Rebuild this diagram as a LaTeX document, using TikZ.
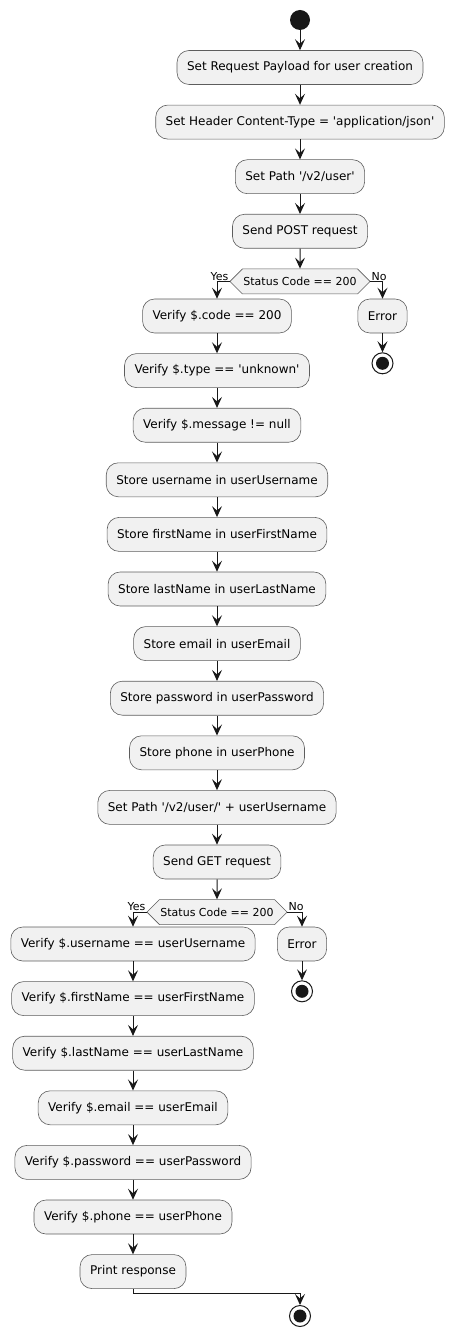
\documentclass[tikz,border=0pt]{standalone}
\usepackage{fontspec}
\setmainfont{DejaVu Sans}[Ligatures=TeXOff]
\usetikzlibrary{arrows.meta,shapes.symbols,positioning}
\definecolor{actfill}{HTML}{F1F1F1}
\definecolor{umlline}{HTML}{181818}
\tikzset{
  action/.style={draw=umlline!70, fill=actfill, rounded corners=12pt, line width=0.6pt,
    minimum height=34pt, inner xsep=10pt, inner ysep=0pt, font=\fontsize{12}{14}\selectfont},
  decision/.style={signal, signal to=west and east, draw=umlline!70, fill=actfill, line width=0.6pt,
    minimum height=25pt, inner xsep=1pt, inner ysep=0pt, font=\fontsize{11}{13}\selectfont},
  branchlabel/.style={inner sep=1pt, font=\fontsize{11}{13}\selectfont},
  flow/.style={-{Stealth[length=11pt,width=10pt,inset=4.5pt]}, line width=1pt, umlline},
  startdot/.style={circle, fill=umlline, minimum size=20pt, inner sep=0pt},
  stopdot/.style={circle, draw=umlline, line width=1pt, fill=white, minimum size=21pt, inner sep=0pt,
    path picture={\fill[umlline] (path picture bounding box.center) circle (6.5pt);}},
}
\begin{document}
\begin{tikzpicture}[x=1pt, y=1pt]
  \useasboundingbox (0,0) rectangle (455,-1337);
  % create the user
  \node[startdot] (start) at (300,-20) {};
  \node[action, below=20pt of start] (payload) {Set Request Payload for user creation};
  \node[action, below=20pt of payload] (header) {Set Header Content-Type = 'application/json'};
  \node[action, below=20pt of header] (path) {Set Path '/v2/user'};
  \node[action, below=20pt of path] (post) {Send POST request};
  \node[decision, below=20pt of post] (check1) {Status Code == 200};
  \node[action] (vcode) at (217,-316) {Verify \$.code == 200};
  \node[action, below=20pt of vcode] (vtype) {Verify \$.type == 'unknown'};
  \node[action, below=20pt of vtype] (vmsg) {Verify \$.message != null};
  \node[action, below=20pt of vmsg] (susername) {Store username in userUsername};
  \node[action, below=20pt of susername] (sfirst) {Store firstName in userFirstName};
  \node[action, below=20pt of sfirst] (slast) {Store lastName in userLastName};
  \node[action, below=20pt of slast] (semail) {Store email in userEmail};
  \node[action, below=20pt of semail] (spass) {Store password in userPassword};
  \node[action, below=20pt of spass] (sphone) {Store phone in userPhone};
  \node[action, below=20pt of sphone] (getpath) {Set Path '/v2/user/' + userUsername};
  \node[action, below=20pt of getpath] (get) {Send GET request};
  \node[action] (error1) at (382.5,-316) {Error};
  \node[stopdot, below=19pt of error1] (stop1) {};
  % read the user back
  \node[decision, below=20pt of get] (check2) {Status Code == 200};
  \node[action] (vuser) at (133,-944) {Verify \$.username == userUsername};
  \node[action, below=20pt of vuser] (vfirst) {Verify \$.firstName == userFirstName};
  \node[action, below=20pt of vfirst] (vlast) {Verify \$.lastName == userLastName};
  \node[action, below=20pt of vlast] (vemail) {Verify \$.email == userEmail};
  \node[action, below=20pt of vemail] (vpass) {Verify \$.password == userPassword};
  \node[action, below=20pt of vpass] (vphone) {Verify \$.phone == userPhone};
  \node[action, below=20pt of vphone] (print) {Print response};
  \node[action] (error2) at (302,-944) {Error};
  \node[stopdot, below=19pt of error2] (stop2) {};
  \node[stopdot] (stop3) at (300,-1316) {};
  % connectors
  \draw[flow] (start) -- (payload);
  \draw[flow] (payload) -- (header);
  \draw[flow] (header) -- (path);
  \draw[flow] (path) -- (post);
  \draw[flow] (post) -- (check1);
  \draw[flow] (check1.west) -| (vcode.north);
  \draw[flow] (check1.east) -| (error1.north);
  \draw[flow] (error1) -- (stop1);
  \draw[flow] (vcode) -- (vtype);
  \draw[flow] (vtype) -- (vmsg);
  \draw[flow] (vmsg) -- (susername);
  \draw[flow] (susername) -- (sfirst);
  \draw[flow] (sfirst) -- (slast);
  \draw[flow] (slast) -- (semail);
  \draw[flow] (semail) -- (spass);
  \draw[flow] (spass) -- (sphone);
  \draw[flow] (sphone) -- (getpath);
  \draw[flow] (getpath) -- (get);
  \draw[flow] (get) -- (check2);
  \draw[flow] (check2.west) -| (vuser.north);
  \draw[flow] (check2.east) -| (error2.north);
  \draw[flow] (error2) -- (stop2);
  \draw[flow] (vuser) -- (vfirst);
  \draw[flow] (vfirst) -- (vlast);
  \draw[flow] (vlast) -- (vemail);
  \draw[flow] (vemail) -- (vpass);
  \draw[flow] (vpass) -- (vphone);
  \draw[flow] (vphone) -- (print);
  \draw[flow] (print.south) -- ++(0,-5) -| (stop3.north);
  % branch labels
  \node[branchlabel, anchor=south east] (yes1) at (check1.west) {Yes};
  \node[branchlabel, anchor=south west] (no1) at (check1.east) {No};
  \node[branchlabel, anchor=south east] (yes2) at (check2.west) {Yes};
  \node[branchlabel, anchor=south west] (no2) at (check2.east) {No};
\end{tikzpicture}
\end{document}
